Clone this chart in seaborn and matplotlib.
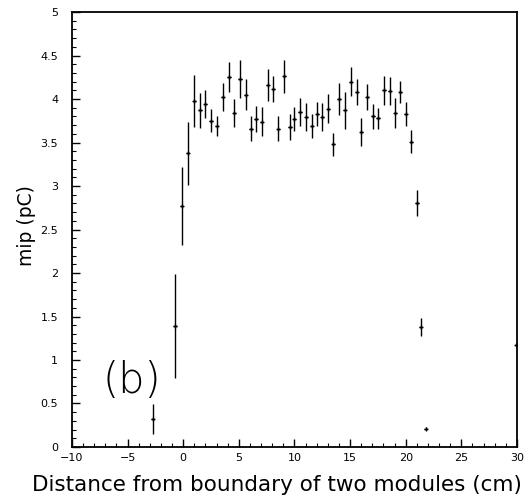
import numpy as np
import pandas as pd
import matplotlib
matplotlib.use("Agg")
import matplotlib.pyplot as plt
import seaborn as sns
from matplotlib.ticker import MultipleLocator

# ---- data ----
distance = [-2.75, -0.75, -0.15, 0.4,
            1.0, 1.5, 2.0, 2.5, 3.0, 3.55, 4.1, 4.6, 5.1, 5.6,
            6.1, 6.55, 7.05, 7.6, 8.1, 8.55, 9.1, 9.6, 10.0, 10.5,
            11.05, 11.55, 12.05, 12.5, 13.05, 13.5, 14.0, 14.5, 15.05, 15.6,
            16.0, 16.55, 17.05, 17.5, 18.05, 18.55, 19.05, 19.5, 20.0, 20.5,
            21.0, 21.35, 21.8, 29.95]
mip = [0.32, 1.39, 2.77, 3.375,
       3.98, 3.87, 3.94, 3.75, 3.69, 4.02, 4.25, 3.84, 4.23, 4.05,
       3.66, 3.77, 3.74, 4.16, 4.11, 3.66, 4.26, 3.68, 3.77, 3.85,
       3.79, 3.69, 3.83, 3.79, 3.89, 3.48, 4.00, 3.87, 4.20, 4.08,
       3.62, 4.02, 3.80, 3.78, 4.10, 4.09, 3.84, 4.08, 3.83, 3.51,
       2.80, 1.38, 0.21, 1.17]
mip_err = [0.17, 0.60, 0.45, 0.36,
           0.30, 0.20, 0.16, 0.13, 0.12, 0.16, 0.17, 0.16, 0.22, 0.18,
           0.14, 0.15, 0.17, 0.18, 0.15, 0.14, 0.19, 0.15, 0.14, 0.16,
           0.16, 0.14, 0.14, 0.16, 0.17, 0.13, 0.18, 0.21, 0.17, 0.15,
           0.16, 0.15, 0.14, 0.12, 0.17, 0.16, 0.17, 0.13, 0.14, 0.13,
           0.15, 0.10, 0.02, 0.0]
x_ticks = [-10, -5, 0, 5, 10, 15, 20, 25, 30]
y_ticks = [0, 0.5, 1, 1.5, 2, 2.5, 3, 3.5, 4, 4.5, 5]
y_ticklabels = ["0", "0.5", "1", "1.5", "2", "2.5", "3", "3.5", "4", "4.5", "5"]

df = pd.DataFrame({"distance": distance, "mip": mip, "err": mip_err})

sns.set_theme(style="ticks")
plt.rcParams["font.family"] = ["DejaVu Sans"]

fig = plt.figure(figsize=(5.32, 5.01), dpi=100)
ax = fig.add_axes([0.1353, 0.1078, 0.8365, 0.8682])

ax.errorbar(df["distance"], df["mip"], yerr=df["err"], xerr=0.15,
            fmt="none", ecolor="black", elinewidth=1.0, capsize=0)
sns.scatterplot(data=df, x="distance", y="mip", ax=ax, marker="+",
                s=12, color="black", linewidth=1.0, legend=False)

ax.set_xlim(-10, 30)
ax.set_ylim(0, 5)
ax.set_xticks(x_ticks)
ax.set_xticklabels([str(t).replace("-", "\u2212") for t in x_ticks])
ax.set_yticks(y_ticks)
ax.set_yticklabels(y_ticklabels)
ax.xaxis.set_minor_locator(MultipleLocator(1))
ax.yaxis.set_minor_locator(MultipleLocator(0.1))
ax.tick_params(axis="both", which="major", direction="in", length=6,
               width=1, labelsize=8, colors="black", pad=4)
ax.tick_params(axis="y", which="major", pad=10)
ax.tick_params(axis="both", which="minor", direction="in", length=3,
               width=0.8, colors="black")
ax.tick_params(top=False, right=False, which="both")
for s in ax.spines.values():
    s.set_visible(True)
    s.set_color("black")
    s.set_linewidth(1.3)

ax.set_xlabel("Distance from boundary of two modules (cm)", fontsize=15.5,
              color="black")
ax.xaxis.set_label_coords(0.46, -0.065)
ax.set_ylabel("mip (pC)", fontsize=13.5, color="black")
ax.yaxis.set_label_coords(-0.08, 0.51)
ax.text(-4.6, 0.77, "(b)", fontsize=30, ha="center", va="center",
        color="black", fontweight="light")

fig.savefig("out.png", dpi=100)
